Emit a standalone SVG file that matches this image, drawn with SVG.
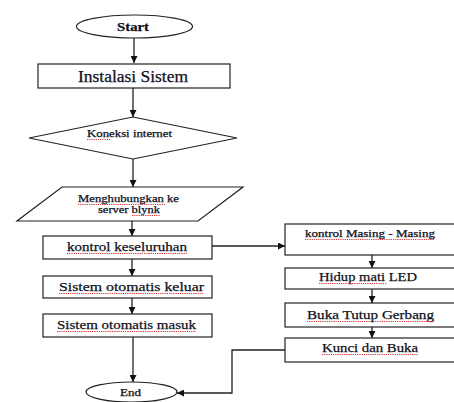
<svg xmlns="http://www.w3.org/2000/svg" width="454" height="402" viewBox="0 0 454 402" font-family="Liberation Serif, Times New Roman, serif">
<style>
.s{fill:#fff;stroke:#222;stroke-width:1.2}
.t{fill:#101020;stroke:#101020;stroke-width:0.25;text-anchor:middle}
.c{fill:none;stroke:#222;stroke-width:1.3}
.w{fill:none;stroke:#e03030;stroke-width:1;stroke-dasharray:1.2 1}
</style>
<defs>
<marker id="a" viewBox="0 0 10 10" refX="10" refY="5" markerWidth="7" markerHeight="7" markerUnits="userSpaceOnUse" orient="auto"><path d="M0,0 L10,5 L0,10 z" fill="#111"/></marker>
</defs>
<rect width="454" height="402" fill="#fff"/>
<g id="connectors">
<path class="c" d="M134,38 V63" marker-end="url(#a)"/>
<path class="c" d="M133,88 V117" marker-end="url(#a)"/>
<path class="c" d="M133,159 V187" marker-end="url(#a)"/>
<path class="c" d="M132,221 V236" marker-end="url(#a)"/>
<path class="c" d="M132,259 V276" marker-end="url(#a)"/>
<path class="c" d="M132,298 V314" marker-end="url(#a)"/>
<path class="c" d="M133,337 V382" marker-end="url(#a)"/>
<path class="c" d="M212,246 H285" marker-end="url(#a)"/>
<path class="c" d="M372,255 V268" marker-end="url(#a)"/>
<path class="c" d="M372,289 V303" marker-end="url(#a)"/>
<path class="c" d="M372,327 V338" marker-end="url(#a)"/>
<path class="c" d="M285,350 H232 V393 H177" marker-end="url(#a)"/>
</g>
<g id="start">
<ellipse class="s" cx="134.5" cy="26.5" rx="58" ry="11.5"/>
<text class="t" x="133" y="31" font-family="Liberation Serif, serif" font-size="13" font-weight="bold" textLength="32" lengthAdjust="spacingAndGlyphs">Start</text>
</g>
<g id="instalasi">
<rect class="s" x="38" y="64" width="192" height="24"/>
<text class="t" x="133" y="82" font-family="Liberation Serif, serif" font-size="16" textLength="110" lengthAdjust="spacingAndGlyphs">Instalasi Sistem</text>
</g>
<g id="koneksi">
<polygon class="s" points="133,117 237,138 133,159 29,138"/>
<text class="t" x="129.5" y="137" font-family="Liberation Serif, serif" font-size="10" textLength="85" lengthAdjust="spacingAndGlyphs">Koneksi internet</text>
<path class="w" d="M87,139.5 H111"/>
</g>
<g id="menghubungkan">
<polygon class="s" points="62,187 243,187 198,221 17,221"/>
<text class="t" x="128.5" y="202" font-family="Liberation Serif, serif" font-size="10" textLength="101" lengthAdjust="spacingAndGlyphs">Menghubungkan  ke</text>
<text class="t" x="129" y="213" font-family="Liberation Serif, serif" font-size="10" textLength="62" lengthAdjust="spacingAndGlyphs">server blynk</text>
<path class="w" d="M78,204.5 H165 M132,215.5 H160"/>
</g>
<g id="kontrol-keseluruhan">
<rect class="s" x="43" y="236" width="169" height="23"/>
<text class="t" x="127" y="251" font-family="Liberation Serif, serif" font-size="13.5" textLength="120" lengthAdjust="spacingAndGlyphs">kontrol keseluruhan</text>
<path class="w" d="M67,253.5 H187"/>
</g>
<g id="sistem-keluar">
<rect class="s" x="43" y="276" width="169" height="22"/>
<text class="t" x="131.5" y="291" font-family="Liberation Serif, serif" font-size="13.5" textLength="145" lengthAdjust="spacingAndGlyphs">Sistem otomatis keluar</text>
<path class="w" d="M59,293.5 H204"/>
</g>
<g id="sistem-masuk">
<rect class="s" x="43" y="314" width="169" height="23"/>
<text class="t" x="126.5" y="329" font-family="Liberation Serif, serif" font-size="13.5" textLength="139" lengthAdjust="spacingAndGlyphs">Sistem otomatis masuk</text>
<path class="w" d="M57,331.5 H196"/>
</g>
<g id="end">
<ellipse class="s" cx="131.5" cy="392" rx="45.5" ry="10"/>
<text class="t" x="130.5" y="396" font-family="Liberation Serif, serif" font-size="9.5" textLength="21" lengthAdjust="spacingAndGlyphs">End</text>
</g>
<g id="kontrol-masing">
<rect class="s" x="285" y="224" width="172" height="31"/>
<text class="t" x="370" y="237" font-family="Liberation Serif, serif" font-size="10" textLength="130" lengthAdjust="spacingAndGlyphs">kontrol Masing - Masing</text>
<path class="w" d="M305,239.5 H435"/>
</g>
<g id="hidup-led">
<rect class="s" x="285" y="268" width="172" height="21"/>
<text class="t" x="368" y="281" font-family="Liberation Serif, serif" font-size="13" textLength="98" lengthAdjust="spacingAndGlyphs">Hidup mati LED</text>
<path class="w" d="M319,283.5 H387"/>
</g>
<g id="buka-tutup">
<rect class="s" x="285" y="303" width="172" height="24"/>
<text class="t" x="370.5" y="319" font-family="Liberation Serif, serif" font-size="13" textLength="127" lengthAdjust="spacingAndGlyphs">Buka Tutup Gerbang</text>
<path class="w" d="M307,321.5 H434"/>
</g>
<g id="kunci-buka">
<rect class="s" x="285" y="338" width="172" height="24"/>
<text class="t" x="370" y="352" font-family="Liberation Serif, serif" font-size="13" textLength="96" lengthAdjust="spacingAndGlyphs">Kunci dan Buka</text>
<path class="w" d="M322,354.5 H418"/>
</g>
</svg>
